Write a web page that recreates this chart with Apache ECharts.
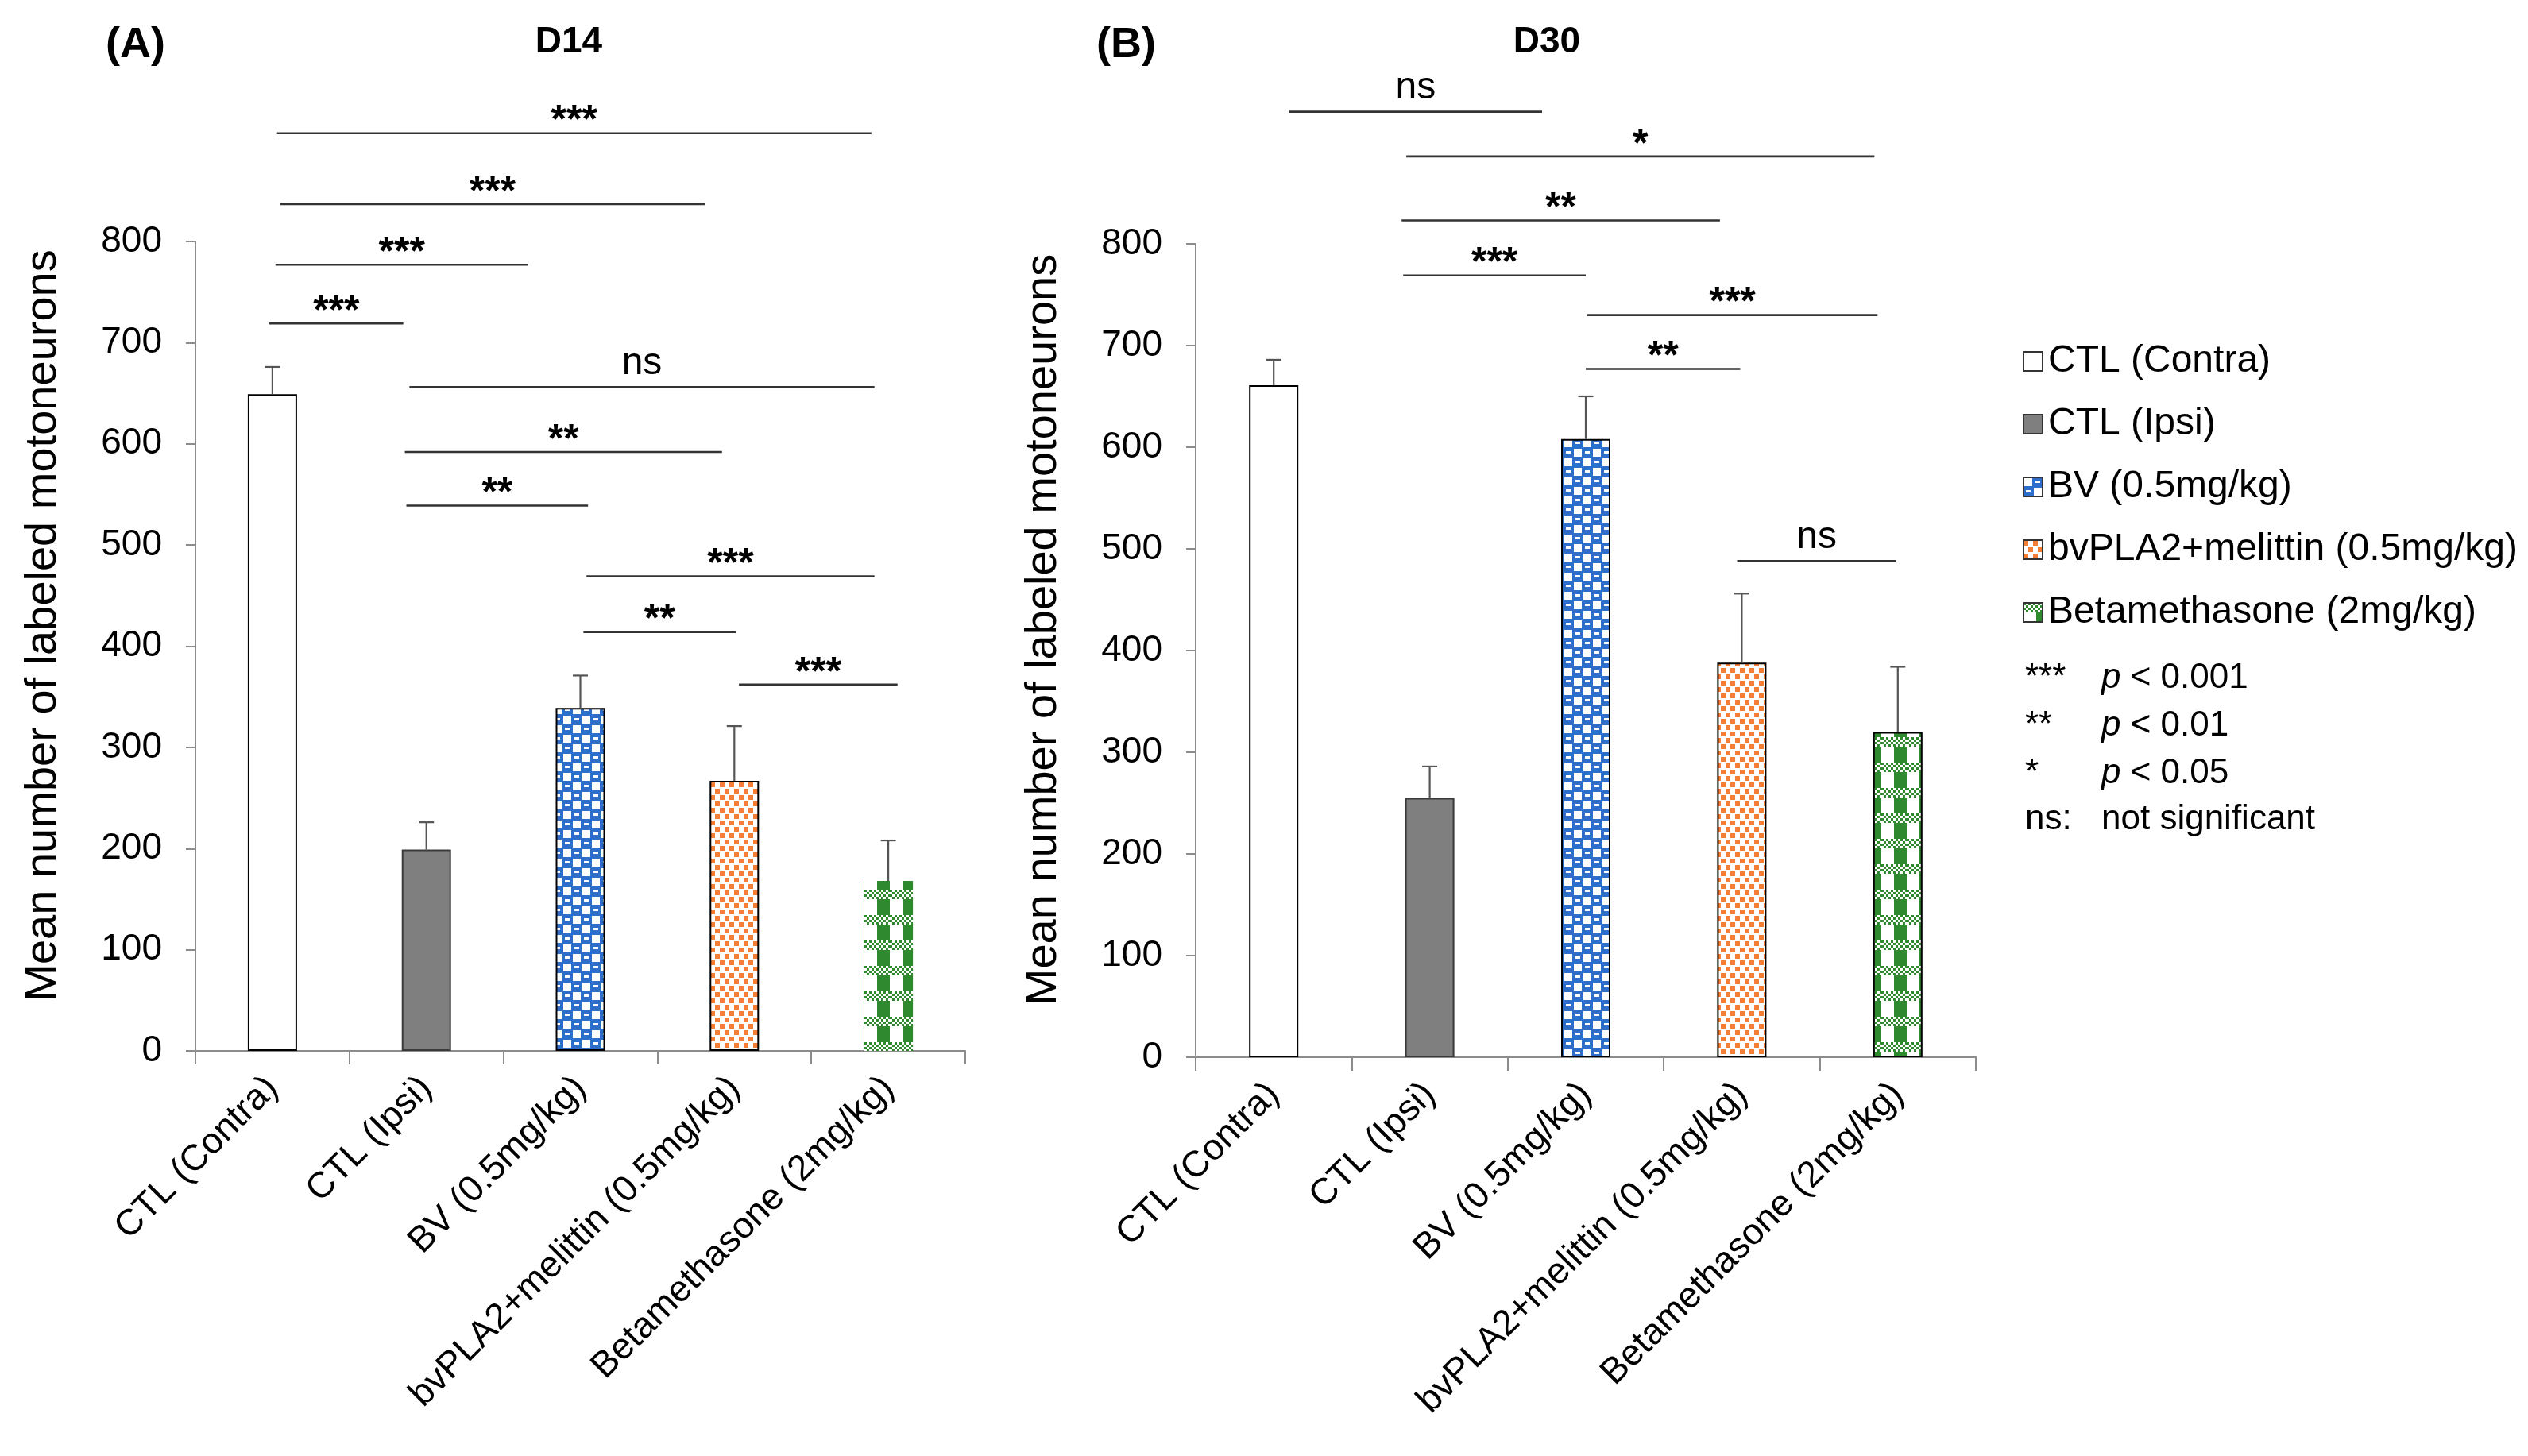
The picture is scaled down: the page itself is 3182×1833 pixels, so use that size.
<!DOCTYPE html>
<html><head><meta charset="utf-8">
<script src="https://cdn.jsdelivr.net/npm/echarts@6/dist/echarts.min.js"></script>
<style>html,body{margin:0;padding:0;background:#fff}#c{width:3182px;height:1833px}</style>
</head><body><div id="c"></div>
<script>
// ---------------- data ----------------
const categories = ['CTL (Contra)', 'CTL (Ipsi)', 'BV (0.5mg/kg)', 'bvPLA2+melittin (0.5mg/kg)', 'Betamethasone (2mg/kg)'];
const meanD14 = [649, 199, 339, 267, 168];
const semD14  = [27, 27, 32, 54, 40];
const meanD30 = [661, 255, 608, 388, 320];
const semD30  = [25, 31, 42, 68, 64];
const yMin = 0, yMax = 800, yStep = 100;
// significance bars: [start, end (category units, 0 = centre of first group), height (value units), label]
const sigD14 = [
  [0.03, 3.89, 907, '***'],
  [0.05, 2.81, 837, '***'],
  [0.02, 1.66, 777, '***'],
  [-0.02, 0.85, 719, '***'],
  [0.89, 3.91, 656, 'ns'],
  [0.86, 2.92, 592, '**'],
  [0.87, 2.05, 539, '**'],
  [2.04, 3.91, 469, '***'],
  [2.02, 3.01, 414, '**'],
  [3.03, 4.06, 362, '***']
];
const sigD30 = [
  [0.10, 1.72, 930, 'ns'],
  [0.85, 3.85, 886, '*'],
  [0.82, 2.86, 823, '**'],
  [0.83, 2.00, 769, '***'],
  [2.01, 3.87, 730, '***'],
  [2.00, 2.99, 677, '**'],
  [2.97, 3.99, 488, 'ns']
];
const keyMarks = ['***', '**', '*', 'ns:'];
const keyTexts = ['{i|p} < 0.001', '{i|p} < 0.01', '{i|p} < 0.05', 'not significant'];
const panelTitles = ['D14', 'D30'];
const panelLetters = ['(A)', '(B)'];
const yName = 'Mean number of labeled motoneurons';

// ---------------- styles ----------------
const FONT = 'Liberation Sans, Arial, sans-serif';
function tile(w, h, draw) { const c = document.createElement('canvas'); c.width = w; c.height = h; draw(c.getContext('2d')); return c; }
const blueTile = tile(24, 24, g => {
  g.fillStyle = '#2d6ecb'; g.fillRect(0, 0, 24, 24);
  g.fillStyle = '#ffffff'; g.fillRect(1, 1, 10, 10); g.fillRect(13, 13, 10, 10);
  g.fillRect(15, 4, 6, 3); g.fillRect(3, 16, 6, 3);
});
const orangeTile = tile(12, 16, g => {
  g.fillStyle = '#ffffff'; g.fillRect(0, 0, 12, 16);
  g.fillStyle = '#f47d38'; g.fillRect(0, 1, 6, 6); g.fillRect(6, 9, 6, 6);
});
const greenTile = tile(32, 32, g => {
  g.fillStyle = '#ffffff'; g.fillRect(0, 0, 32, 32);
  g.fillStyle = '#2f8a2f'; g.fillRect(16, 0, 16, 32);
  g.fillStyle = '#ffffff'; g.fillRect(0, 0, 32, 12);
  g.fillStyle = '#2f8a2f';
  for (let y = 0; y < 12; y += 3) for (let x = 0; x < 32; x += 3) if (((x + y) / 3) % 2 === 0) g.fillRect(x, y, 3, 3);
});
function barStyle(i, p) {
  const s = [
    { color: '#ffffff', borderColor: '#000', borderWidth: 2 },
    { color: '#7f7f7f', borderColor: '#3a3a3a', borderWidth: 2 },
    { color: { image: blueTile, repeat: 'repeat' }, borderColor: '#000', borderWidth: 2 },
    { color: { image: orangeTile, repeat: 'repeat' }, borderColor: '#000', borderWidth: 2 },
    { color: { image: greenTile, repeat: 'repeat' }, borderColor: '#000', borderWidth: p === 0 ? 0 : 2 }
  ];
  return s[i];
}

function errorSeries(p, mean, sem) {
  return {
    type: 'custom', xAxisIndex: p, yAxisIndex: p, z: 5, clip: false, silent: true,
    data: mean.map((m, i) => [i, m, m + sem[i]]),
    encode: { x: 0, y: [1, 2] },
    renderItem: (params, api) => {
      const x = api.value(0);
      const b = api.coord([x, api.value(1)]);
      const t = api.coord([x, api.value(2)]);
      const st = { stroke: '#555', lineWidth: 2.2 };
      return { type: 'group', children: [
        { type: 'line', shape: { x1: b[0], y1: b[1], x2: t[0], y2: t[1] }, style: st },
        { type: 'line', shape: { x1: t[0] - 9.5, y1: t[1], x2: t[0] + 9.5, y2: t[1] }, style: st }
      ] };
    }
  };
}
function sigSeries(p, list) {
  return {
    type: 'custom', xAxisIndex: p, yAxisIndex: p, z: 6, clip: false, silent: true,
    data: list.map(b => [0, 0]),
    encode: { x: 0, y: 1 },
    renderItem: (params, api) => {
      const b = list[params.dataIndex];
      const c0 = api.coord([0, b[2]]);
      const c1 = api.coord([1, b[2]]);
      const bw = c1[0] - c0[0];
      const xa = c0[0] + b[0] * bw, xb = c0[0] + b[1] * bw, y = c0[1];
      const ns = b[3] === 'ns';
      return { type: 'group', children: [
        { type: 'line', shape: { x1: xa, y1: y, x2: xb, y2: y }, style: { stroke: '#333', lineWidth: 2.6 } },
        { type: 'text', x: (xa + xb) / 2, y: y + (ns ? -30 : -14),
          style: { text: b[3], fill: '#000', fontFamily: FONT, fontSize: ns ? 48 : 50, fontWeight: ns ? 'normal' : 'bold',
                   align: 'center', verticalAlign: 'middle', textAlign: 'center', textVerticalAlign: 'middle' } }
      ] };
    }
  };
}
function panel(p, mean, sem, sig) {
  const out = categories.map((name, i) => ({
    type: 'bar', name, xAxisIndex: p, yAxisIndex: p, barWidth: 62, barGap: '-100%',
    data: mean.map((v, j) => (j === i ? v : '-')),
    itemStyle: barStyle(i, p)
  }));
  out.push(errorSeries(p, mean, sem));
  out.push(sigSeries(p, sig));
  return out;
}
const axisGray = '#8c8c8c';
function xAx(p) {
  return { gridIndex: p, type: 'category', data: categories,
    axisLine: { lineStyle: { color: axisGray, width: 2 } },
    axisTick: { show: true, interval: 0, alignWithLabel: false, length: 17, lineStyle: { color: axisGray, width: 2 } },
    axisLabel: { interval: 0, rotate: 45, fontSize: 46, color: '#000', fontFamily: FONT, margin: 40 } };
}
function yAx(p) {
  return { gridIndex: p, type: 'value', min: yMin, max: yMax, interval: yStep,
    name: yName, nameLocation: 'middle', nameGap: 163,
    nameTextStyle: { fontSize: 56, color: '#000', fontFamily: FONT, padding: [0, 0, 0, 52] },
    axisLine: { show: true, lineStyle: { color: axisGray, width: 2 } },
    axisTick: { show: true, length: 12, lineStyle: { color: axisGray, width: 2 } },
    splitLine: { show: false },
    axisLabel: { fontSize: 46, color: '#000', fontFamily: FONT, margin: 42 } };
}
const graphics = [];
[[133, 716], [1380, 1947]].forEach((pos, p) => {
  graphics.push({ type: 'text', x: pos[0], y: 57, style: { text: panelLetters[p], fill: '#000', fontFamily: FONT, fontSize: 54, fontWeight: 'bold', align: 'left', verticalAlign: 'middle', textAlign: 'left', textVerticalAlign: 'middle' } });
  graphics.push({ type: 'text', x: pos[1], y: 53, style: { text: panelTitles[p], fill: '#000', fontFamily: FONT, fontSize: 46, fontWeight: 'bold', align: 'center', verticalAlign: 'middle', textAlign: 'center', textVerticalAlign: 'middle' } });
});
const keyY = [854, 914, 974, 1032];
keyMarks.forEach((m, i) => {
  graphics.push({ type: 'text', x: 2549, y: keyY[i], style: { text: m, fill: '#000', fontFamily: FONT, fontSize: 44, align: 'left', verticalAlign: 'middle', textAlign: 'left', textVerticalAlign: 'middle' } });
  graphics.push({ type: 'text', x: 2645, y: keyY[i], style: { text: keyTexts[i], fill: '#000', fontFamily: FONT, fontSize: 44,
    rich: { i: { fontStyle: 'italic', fontSize: 44, fontFamily: FONT, fill: '#000' } },
    align: 'left', verticalAlign: 'middle', textAlign: 'left', textVerticalAlign: 'middle' } });
});

const chart = echarts.init(document.getElementById('c'), null, { renderer: 'canvas' });
chart.setOption({
  backgroundColor: '#fff',
  animation: false,
  textStyle: { fontFamily: FONT },
  grid: [
    { left: 246, top: 304, width: 969, height: 1019 },
    { left: 1505, top: 307, width: 982, height: 1024 }
  ],
  xAxis: [xAx(0), xAx(1)],
  yAxis: [yAx(0), yAx(1)],
  legend: {
    data: categories, orient: 'vertical', left: 2541, top: 425, icon: 'rect',
    itemWidth: 24, itemHeight: 24, itemGap: 29, selectedMode: false,
    itemStyle: { borderColor: '#333', borderWidth: 2 },
    textStyle: { fontSize: 48, lineHeight: 50, color: '#000', fontFamily: FONT, padding: [0, 0, 0, 2] }
  },
  series: [...panel(0, meanD14, semD14, sigD14), ...panel(1, meanD30, semD30, sigD30)],
  graphic: graphics
});
</script></body></html>
